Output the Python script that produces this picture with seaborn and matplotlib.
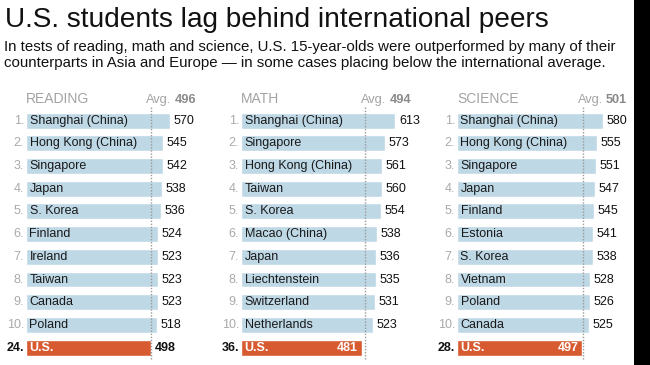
import numpy as np
import pandas as pd
import matplotlib.pyplot as plt
import seaborn as sns
from matplotlib.patches import Rectangle

# data
reading_countries = ["Shanghai (China)", "Hong Kong (China)", "Singapore", "Japan", "S. Korea",
                     "Finland", "Ireland", "Taiwan", "Canada", "Poland", "U.S."]
reading_scores = [570, 545, 542, 538, 536, 524, 523, 523, 523, 518, 498]
reading_ranks = [1, 2, 3, 4, 5, 6, 7, 8, 9, 10, 24]
reading_avg = 496

math_countries = ["Shanghai (China)", "Singapore", "Hong Kong (China)", "Taiwan", "S. Korea",
                  "Macao (China)", "Japan", "Liechtenstein", "Switzerland", "Netherlands", "U.S."]
math_scores = [613, 573, 561, 560, 554, 538, 536, 535, 531, 523, 481]
math_ranks = [1, 2, 3, 4, 5, 6, 7, 8, 9, 10, 36]
math_avg = 494

science_countries = ["Shanghai (China)", "Hong Kong (China)", "Singapore", "Japan", "Finland",
                     "Estonia", "S. Korea", "Vietnam", "Poland", "Canada", "U.S."]
science_scores = [580, 555, 551, 547, 545, 541, 538, 528, 526, 525, 497]
science_ranks = [1, 2, 3, 4, 5, 6, 7, 8, 9, 10, 28]
science_avg = 501

panels = [
    ("READING", reading_countries, reading_scores, reading_ranks, reading_avg),
    ("MATH", math_countries, math_scores, math_ranks, math_avg),
    ("SCIENCE", science_countries, science_scores, science_ranks, science_avg),
]

sns.set_theme(style="white")
plt.rcParams['font.family'] = ['Liberation Sans', 'DejaVu Sans']

BLUE = "#bed8e6"
ORANGE = "#d85a31"
W, H = 650, 365
PX_PER_UNIT = 0.252
left_px = [26, 241, 457]
ax_w = 190
top_px, bot_px = 109.2, 359.0
FS = 9.0

fig = plt.figure(figsize=(W / 100, H / 100), dpi=100)
fig.patch.set_facecolor("white")

fig.text(5 / W, 1 - 27 / H, "U.S. students lag behind international peers",
         fontsize=20.2, color="#111111", va="baseline", ha="left")
fig.text(4 / W, 1 - 51 / H,
         "In tests of reading, math and science, U.S. 15-year-olds were outperformed by many of their",
         fontsize=10.8, color="#111111", va="baseline", ha="left")
fig.text(4 / W, 1 - 67 / H,
         "counterparts in Asia and Europe \u2014 in some cases placing below the international average.",
         fontsize=10.8, color="#111111", va="baseline", ha="left")

# black strip on the right edge
fig.add_artist(Rectangle((634 / W, 0), 1 - 634 / W, 1, transform=fig.transFigure,
                         facecolor="black", edgecolor="none"))

fig.canvas.draw()
renderer = fig.canvas.get_renderer()

for (name, countries, scores, ranks, avg), lp in zip(panels, left_px):
    ax = fig.add_axes([lp / W, 1 - bot_px / H, ax_w / W, (bot_px - top_px) / H])
    df = pd.DataFrame({"country": countries, "score": scores})
    pal = {c: (ORANGE if c == "U.S." else BLUE) for c in countries}
    sns.barplot(data=df, x="score", y="country", hue="country", palette=pal,
                legend=False, orient="h", width=0.7, saturation=1, ax=ax)
    ax.set_xlim(0, ax_w / PX_PER_UNIT)
    ax.set_ylim(len(countries) - 0.5, -0.5)
    ax.axis("off")

    ax.axvline(avg, ymin=0, ymax=1.01, color="#999999", lw=1,
               linestyle=(0, (1, 1.2)), zorder=3, clip_on=False)

    for i, (c, s, r) in enumerate(zip(countries, scores, ranks)):
        is_us = c == "U.S."
        ax.annotate(f"{r}.", (0, i), xytext=(-2, 0), textcoords="offset pixels",
                    ha="right", va="center", fontsize=FS,
                    color="#111111" if is_us else "#aaaaaa",
                    fontweight="bold" if is_us else "normal", annotation_clip=False)
        ax.annotate(c, (0, i), xytext=(3.5, 0), textcoords="offset pixels",
                    ha="left", va="center", fontsize=FS,
                    color="white" if is_us else "#1a1a1a",
                    fontweight="bold" if is_us else "normal", zorder=4)
        if is_us and s < avg:
            ax.annotate(str(s), (s, i), xytext=(-4, 0), textcoords="offset pixels",
                        ha="right", va="center", fontsize=FS, color="white",
                        fontweight="bold", zorder=4)
        else:
            ax.annotate(str(s), (s, i), xytext=(3.5, 0), textcoords="offset pixels",
                        ha="left", va="center", fontsize=FS, color="#111111",
                        fontweight="bold" if is_us else "normal", annotation_clip=False)

    # panel header
    ax.text(0, 1.024, name, transform=ax.get_xaxis_transform(), fontsize=10,
            color="#a3a3a3", ha="left", va="baseline")
    num = ax.annotate(str(avg), (0, 1.024), xycoords=ax.get_xaxis_transform(),
                      xytext=(170, 0), textcoords="offset pixels", ha="right",
                      va="baseline", fontsize=9.2, color="#8a8a8a", fontweight="bold")
    wnum = num.get_window_extent(renderer).width
    ax.annotate("Avg.", (0, 1.024), xycoords=ax.get_xaxis_transform(),
                xytext=(170 - wnum - 3, 0), textcoords="offset pixels", ha="right",
                va="baseline", fontsize=9.2, color="#a3a3a3")

fig.savefig("out.png", dpi=100)
